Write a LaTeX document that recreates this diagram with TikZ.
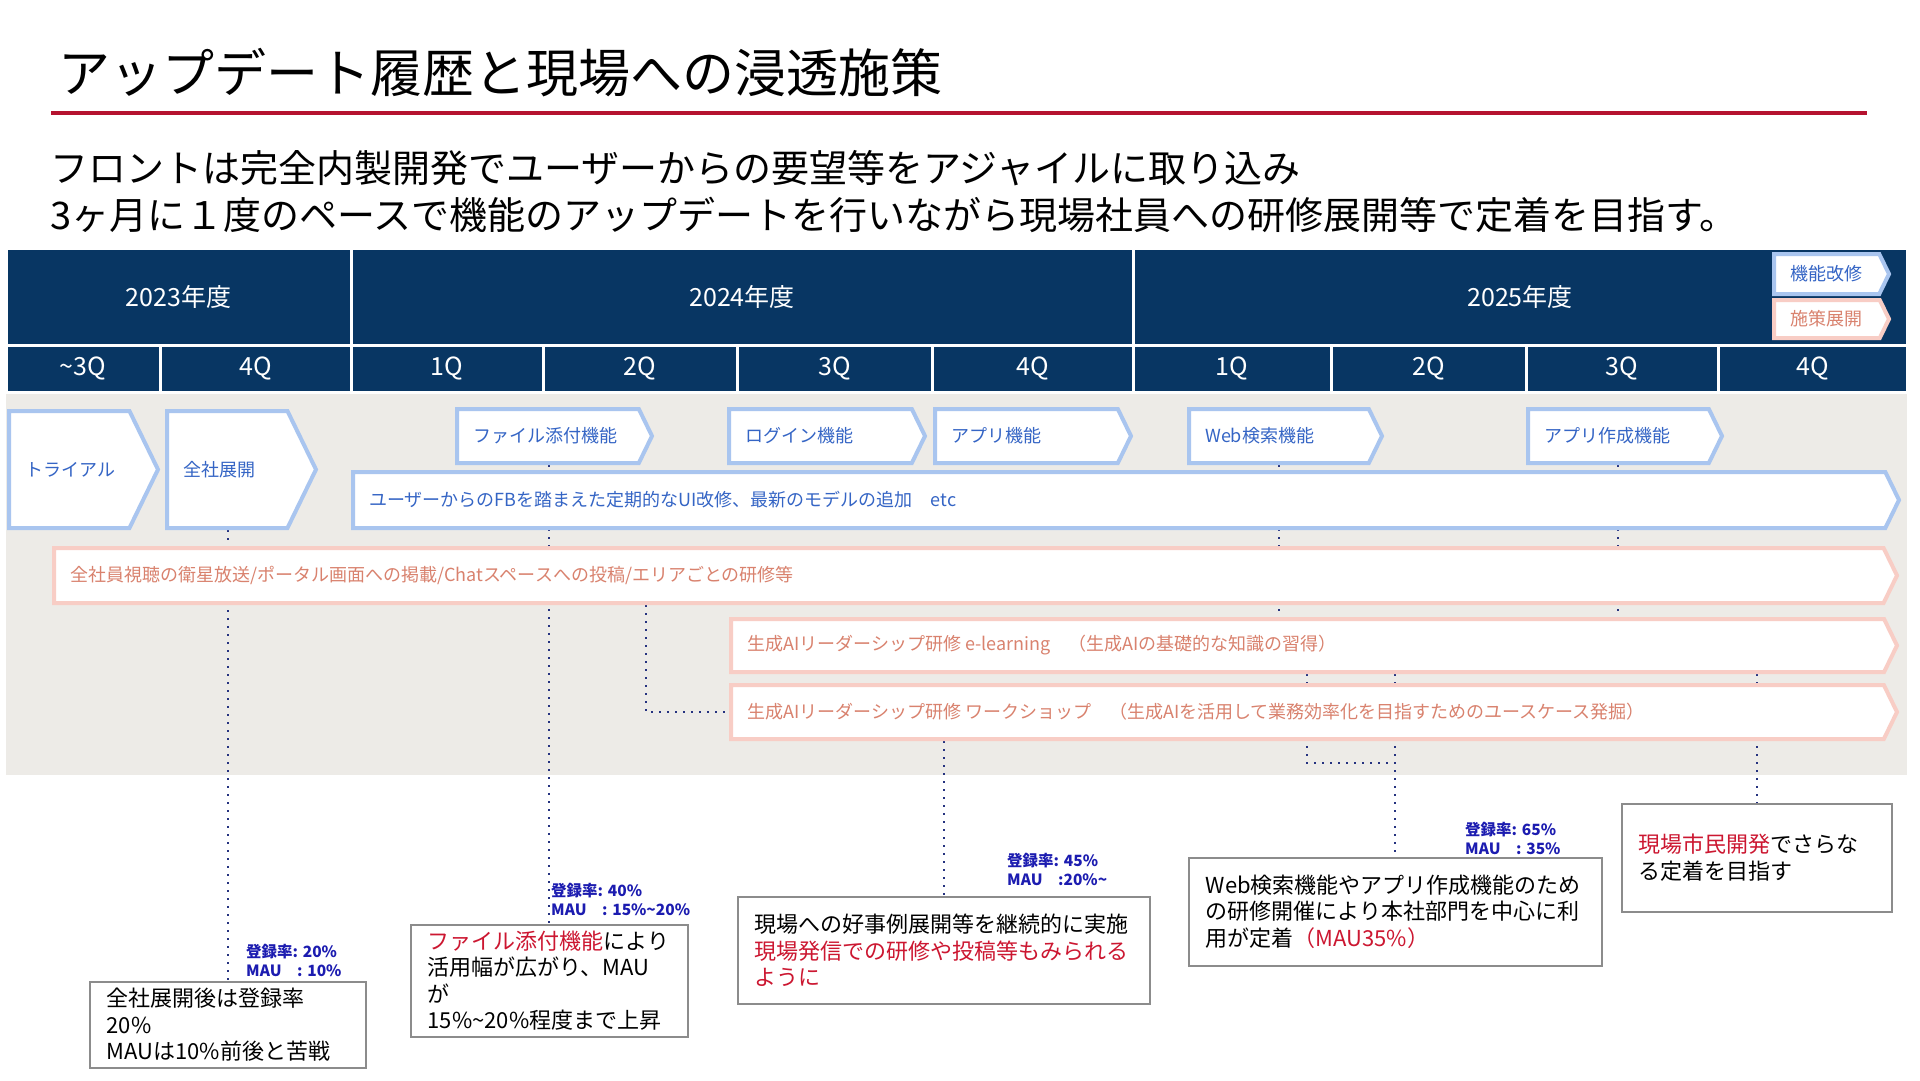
\documentclass[tikz,border=0pt]{standalone}
\usepackage{fontspec}
\setmainfont{Noto Sans CJK JP}
\usetikzlibrary{shapes.symbols}

\definecolor{kon}{HTML}{083663}
\definecolor{haiiro}{HTML}{EDEBE7}
\definecolor{aowaku}{HTML}{A9C5EF}
\definecolor{aomoji}{HTML}{3565C5}
\definecolor{momowaku}{HTML}{F8CDC5}
\definecolor{momomoji}{HTML}{D9826E}
\definecolor{aka}{HTML}{CC1731}
\definecolor{akasen}{HTML}{B5122F}
\definecolor{suuchiiro}{HTML}{1C1CB0}
\definecolor{tenkon}{HTML}{25327F}
\definecolor{wakuiro}{HTML}{8C8C8C}

\pgfdeclarelayer{haikei}
\pgfdeclarelayer{sen}
\pgfsetlayers{haikei,sen,main}

\tikzset{
    yajirushi/.style={signal, signal to=east, signal pointer angle=128,
        fill=white, line width=4pt, inner sep=0pt, anchor=north west},
    kinou/.style={yajirushi, draw=aowaku},
    shisaku/.style={yajirushi, draw=momowaku},
    kinoumoji/.style={anchor=west, xshift=18pt, inner sep=0pt,
        text=aomoji, font=\fontsize{18}{22}\selectfont},
    shisakumoji/.style={kinoumoji, text=momomoji},
    nendo/.style={rectangle, fill=kon, draw=white, line width=3pt,
        text=white, inner sep=0pt, font=\fontsize{25}{30}\selectfont},
    bikou/.style={rectangle, draw=wakuiro, line width=1.5pt, fill=white,
        inner xsep=17pt, inner ysep=0pt, align=left, anchor=north west,
        font=\fontsize{22}{26.5}\selectfont},
    suuchi/.style={anchor=west, align=left, inner sep=0pt, text=suuchiiro,
        font=\bfseries\fontsize{15.5}{19}\selectfont},
    tenten/.style={draw=tenkon, line width=2pt, dash pattern=on 2pt off 6pt}
}

\begin{document}
\begin{tikzpicture}[x=1pt,y=-1pt]
    \useasboundingbox (0,0) rectangle (1920,1080);

    % 見出し
    \node[anchor=west, inner sep=0pt, font=\fontsize{52}{60}\selectfont]
        (midashi) at (58,73) {アップデート履歴と現場への浸透施策};

    \draw[akasen, line width=3.5pt] (51,113) -- (1867,113);

    \node[anchor=west, align=left, inner sep=0pt,
        font=\fontsize{38}{47}\selectfont] (gaiyou) at (50,191.5)
        {フロントは完全内製開発でユーザーからの要望等をアジャイルに取り込み\\
         3ヶ月に１度のペースで機能のアップデートを行いながら現場社員への研修展開等で定着を目指す。};

    % 年度
    \foreach \mei/\xa/\xb/\moji in {
        nen23/6/351/2023年度,
        nen24/351/1133/2024年度,
        nen25/1133/1907/2025年度
    }{
        \node[nendo, minimum width=\xb-\xa, minimum height=97]
            (\mei) at ({(\xa+\xb)/2},296.5) {\moji};
    }

    % 四半期
    \foreach \xa/\xb/\moji [count=\i] in {
        6/160/{\textasciitilde 3Q},
        160/351/4Q,
        351/543/1Q,
        543/737/2Q,
        737/932/3Q,
        932/1133/4Q,
        1133/1331/1Q,
        1331/1526/2Q,
        1526/1718/3Q,
        1718/1907/4Q
    }{
        \node[nendo, minimum width=\xb-\xa, minimum height=47]
            (q\i) at ({(\xa+\xb)/2},368.5) {\moji};
    }

    % 凡例
    \node[kinou, minimum width=115, minimum height=40,
        label={[kinoumoji]west:機能改修}] (hanrei1) at (1772,252) {};
    \node[shisaku, minimum width=115, minimum height=38,
        label={[shisakumoji]west:施策展開}] (hanrei2) at (1772,298) {};

    % 背景
    \begin{pgfonlayer}{haikei}
        \fill[haiiro] (6,392) rectangle (1907,775);
    \end{pgfonlayer}

    % 機能改修
    \node[kinou, minimum width=149, minimum height=117,
        label={[kinoumoji]west:トライアル}] (trial) at (7,409) {};
    \node[kinou, minimum width=149, minimum height=117,
        label={[kinoumoji]west:全社展開}] (zensha) at (165,409) {};
    \node[kinou, minimum width=195, minimum height=54,
        label={[kinoumoji]west:ファイル添付機能}] (file) at (455,407) {};
    \node[kinou, minimum width=196, minimum height=54,
        label={[kinoumoji]west:ログイン機能}] (login) at (727,407) {};
    \node[kinou, minimum width=196, minimum height=54,
        label={[kinoumoji]west:アプリ機能}] (app) at (933,407) {};
    \node[kinou, minimum width=193, minimum height=54,
        label={[kinoumoji]west:Web検索機能}] (web) at (1187,407) {};
    \node[kinou, minimum width=194, minimum height=54,
        label={[kinoumoji]west:アプリ作成機能}] (apsaku) at (1526,407) {};

    \node[kinou, minimum width=1546, minimum height=56,
        label={[kinoumoji]west:{ユーザーからのFBを踏まえた定期的なUI改修、最新のモデルの追加　etc}}]
        (kaishu) at (351,470) {};

    % 施策展開
    \node[shisaku, minimum width=1843, minimum height=55,
        label={[shisakumoji]west:{全社員視聴の衛星放送/ポータル画面への掲載/Chatスペースへの投稿/エリアごとの研修等}}]
        (zenin) at (52,546) {};
    \node[shisaku, minimum width=1166, minimum height=53,
        label={[shisakumoji]west:{生成AIリーダーシップ研修 e-learning　（生成AIの基礎的な知識の習得）}}]
        (elearn) at (729,617) {};
    \node[shisaku, minimum width=1166, minimum height=54,
        label={[shisakumoji]west:{生成AIリーダーシップ研修 ワークショップ　（生成AIを活用して業務効率化を目指すためのユースケース発掘）}}]
        (ws) at (729,683) {};

    % 補足
    \node[bikou, text width=242pt, minimum height=86] (bikou1) at (89,981)
        {全社展開後は登録率\\20\%\\MAUは10\%前後と苦戦};
    \node[bikou, text width=243pt, minimum height=112] (bikou2) at (410,924)
        {{\color{aka}ファイル添付機能}により\\活用幅が広がり、MAU\\が\\15\%\textasciitilde 20\%程度まで上昇};
    \node[bikou, text width=378pt, minimum height=107] (bikou3) at (737,896)
        {現場への好事例展開等を継続的に実施\\{\color{aka}現場発信での研修や投稿等もみられる}\\{\color{aka}ように}};
    \node[bikou, text width=379pt, minimum height=108] (bikou4) at (1188,857)
        {Web検索機能やアプリ作成機能のため\\の研修開催により本社部門を中心に利\\用が定着{\color{aka}（MAU35\%）}};
    \node[bikou, text width=236pt, minimum height=108] (bikou5) at (1621,803)
        {{\color{aka}現場市民開発}でさらな\\る定着を目指す};

    \node[suuchi] (suuchi1) at (246,960) {登録率: 20\%\\MAU　: 10\%};
    \node[suuchi] (suuchi2) at (551,899) {登録率: 40\%\\MAU　: 15\%\textasciitilde 20\%};
    \node[suuchi] (suuchi3) at (1007,869.5) {登録率: 45\%\\MAU　:20\%\textasciitilde};
    \node[suuchi] (suuchi4) at (1465,838) {登録率: 65\%\\MAU　: 35\%};

    % 点線
    \begin{pgfonlayer}{sen}
        \draw[tenten] (zensha.south -| bikou1.north) -- (bikou1.north);
        \draw[tenten] (file.south -| bikou2.north) -- (bikou2.north);
        \draw[tenten] (zenin.south -| 646,0) |- (ws.west);
        \draw[tenten] (ws.south -| bikou3.north) -- ([yshift=-18pt]bikou3.north);
        \draw[tenten] (web.south) -- (web.south |- elearn.north);
        \draw[tenten] (apsaku.south) -- (apsaku.south |- elearn.north);
        \draw[tenten] (elearn.south -| bikou4.north) -- (bikou4.north);
        \draw[tenten] (elearn.south -| 1307,0) |- (bikou4.north |- 0,763);
        \draw[tenten] (elearn.south -| bikou5.north) -- (bikou5.north);
    \end{pgfonlayer}

\end{tikzpicture}
\end{document}
